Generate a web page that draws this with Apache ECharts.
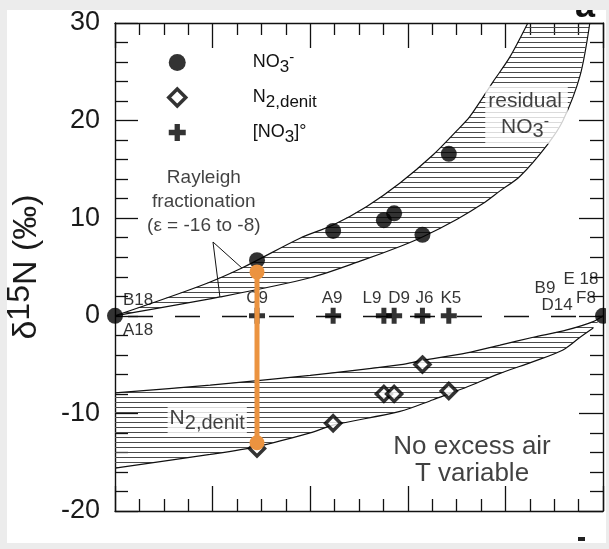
<!DOCTYPE html>
<html><head><meta charset="utf-8">
<script src="https://cdn.jsdelivr.net/npm/echarts@6/dist/echarts.min.js"></script>
<style>
html,body{margin:0;padding:0;background:#ececec;width:609px;height:549px;overflow:hidden}
#chart{position:absolute;left:7px;top:10px;width:599px;height:533px;background:#fff}
</style></head><body><div id="chart"></div>
<script>
// ---------------- data ----------------
const sampleSites = ['C9', 'A9', 'L9', 'D9', 'J6', 'K5'];
const sampleX = [0.291, 0.447, 0.551, 0.572, 0.630, 0.684];
const no3Values = [5.7, 8.7, 9.8, 10.5, 8.3, 16.6];
const n2DenitValues = [-13.6, -11.0, -8.0, -8.0, -5.0, -7.7];
const no3InitialValues = [0, 0, 0, 0, 0, 0];
const endX = [0, 1];
const endNo3Values = [0, 0];
const leftEndLabels = ['B18', 'A18'];
const rightEndLabels = ['B9', 'D14', 'E 18', 'F8'];
const orangeX = 0.291;
const orangeValues = [4.5, -13.0];

// Rayleigh envelopes
const no3UpperX = [0, 0.174, 0.26, 0.379, 0.447, 0.516, 0.584, 0.652, 0.701, 0.727, 0.775, 0.809, 0.846];
const no3UpperY = [0, 3.05, 4.9, 7.95, 9.3, 11.2, 13.6, 16.5, 19.0, 20.4, 24.0, 26.5, 30.0];
const no3LowerX = [0, 0.215, 0.4, 0.508, 0.584, 0.631, 0.701, 0.754, 0.789, 0.83, 0.887, 0.918, 0.953, 0.973];
const no3LowerY = [0, 1.93, 3.9, 5.7, 7.1, 8.1, 9.9, 11.5, 12.8, 14.3, 17.6, 20.0, 24.6, 30.0];
const n2UpperX = [0, 0.195, 0.4, 0.586, 0.627, 0.721, 0.789, 0.857, 0.926, 0.98, 1];
const n2UpperY = [-7.9, -7.1, -6.1, -5.0, -4.6, -3.8, -3.0, -2.2, -1.45, -0.6, 0];
const n2LowerX = [0, 0.195, 0.291, 0.4, 0.447, 0.584, 0.652, 0.684, 0.721, 0.789, 0.857, 0.918, 0.953, 0.98];
const n2LowerY = [-15.6, -14.2, -13.4, -12.0, -11.2, -9.8, -8.6, -8.0, -7.3, -5.9, -4.7, -3.5, -2.2, -1.25];
const rayleighPointerX = [0.26, 0.2008, 0.215];
const rayleighPointerY = [4.9, 7.56, 1.93];

// axes
const xMin = 0, xMax = 1, xStep = 0.2;
const yMin = -20, yMax = 30, yStep = 10;

// ---------------- styles ----------------
const FONT = '"Liberation Sans", Arial, Helvetica, sans-serif';
const INK = '#111';
const ORANGE = '#EB9340';
const plusPath = 'path://M5.5,0H10.5V5.5H16V10.5H10.5V16H5.5V10.5H0V5.5H5.5Z';
const siteLabelShift = {C9: 0, A9: -1, L9: -12, D9: 5, J6: 2, K5: 2};

function makeHatch() {
  const c = document.createElement('canvas');
  c.width = 10; c.height = 5;
  const g = c.getContext('2d');
  g.fillStyle = '#4a4a4a';
  g.fillRect(0, 2, 10, 1);
  return c;
}
const hatchFill = {image: makeHatch(), repeat: 'repeat'};

const richSub = {
  t: {fontSize: 18, lineHeight: 22, fontFamily: FONT, color: INK},
  sub: {fontSize: 17, lineHeight: 12, padding: [10, 0, 0, 0], fontFamily: FONT, color: INK},
  sup: {fontSize: 15, lineHeight: 12, padding: [0, 0, 10, 0], fontFamily: FONT, color: INK}
};
const richBig = {
  t: {fontSize: 21, lineHeight: 26, fontFamily: FONT, color: INK},
  sub: {fontSize: 20, lineHeight: 16, padding: [10, 0, 0, 0], fontFamily: FONT, color: INK},
  sup: {fontSize: 16, lineHeight: 16, padding: [0, 0, 10, 0], fontFamily: FONT, color: INK}
};
const legendText = {
  'NO3-': '{t|NO}{sub|3}{sup|-}',
  'N2,denit': '{t|N}{sub|2,denit}',
  '[NO3]°': '{t|[NO}{sub|3}{t|]°}'
};

function bandSeries(topX, topY, botX, botY) {
  return {
    type: 'custom', silent: true, clip: true, z: 1,
    data: [[topX[0], topY[0]]],
    renderItem: function (params, api) {
      const pts = [];
      for (let i = 0; i < topX.length; i++) pts.push(api.coord([topX[i], topY[i]]));
      for (let i = botX.length - 1; i >= 0; i--) pts.push(api.coord([botX[i], botY[i]]));
      return {type: 'polygon', shape: {points: pts}, style: {fill: hatchFill, stroke: null}};
    }
  };
}
function curveSeries(xs, ys) {
  return {
    type: 'line', data: xs.map((x, i) => [x, ys[i]]), symbol: 'none', smooth: 0.3,
    lineStyle: {color: INK, width: 1.2}, silent: true, z: 2, clip: true
  };
}
const pairs = (xs, ys) => xs.map((x, i) => [x, ys[i]]);

const chart = echarts.init(document.getElementById('chart'));

const axisCommon = {
  type: 'value', splitLine: {show: false},
  axisLine: {onZero: false, lineStyle: {color: INK, width: 1.4}},
  axisTick: {inside: true, lineStyle: {color: INK, width: 1.3}},
  minorTick: {show: true, lineStyle: {color: INK, width: 1.3}},
  minorSplitLine: {show: false}
};

const option = {
  animation: false,
  backgroundColor: '#fff',
  textStyle: {fontFamily: FONT},
  grid: {left: 108, top: 13, right: 3, bottom: 32, containLabel: false, outerBoundsMode: 'none'},
  xAxis: [
    Object.assign({}, axisCommon, {position: 'bottom', min: xMin, max: xMax, interval: xStep,
      axisLabel: {show: false},
      axisTick: Object.assign({}, axisCommon.axisTick, {length: 25}),
      minorTick: Object.assign({}, axisCommon.minorTick, {splitNumber: 4, length: 12})}),
    Object.assign({}, axisCommon, {position: 'top', min: xMin, max: xMax, interval: xStep,
      axisLabel: {show: false},
      axisTick: Object.assign({}, axisCommon.axisTick, {length: 25}),
      minorTick: Object.assign({}, axisCommon.minorTick, {splitNumber: 4, length: 12})})
  ],
  yAxis: [
    Object.assign({}, axisCommon, {position: 'left', min: yMin, max: yMax, interval: yStep,
      axisLabel: {fontSize: 27, color: '#1a1a1a', margin: 15, fontFamily: FONT},
      axisTick: Object.assign({}, axisCommon.axisTick, {length: 23}),
      minorTick: Object.assign({}, axisCommon.minorTick, {splitNumber: 5, length: 13}),
      name: '{d|δ}{s|15}{d|N (‰)}', nameLocation: 'middle', nameRotate: 90, nameGap: 58,
      nameTextStyle: {color: '#1a1a1a', rich: {
        d: {fontSize: 34, lineHeight: 40, fontFamily: FONT, color: '#1a1a1a'},
        s: {fontSize: 32, lineHeight: 26, padding: [0, 0, 14, 0], fontFamily: FONT, color: '#1a1a1a'}
      }}}),
    Object.assign({}, axisCommon, {position: 'right', min: yMin, max: yMax, interval: yStep,
      axisLabel: {show: false},
      axisTick: Object.assign({}, axisCommon.axisTick, {length: 24}),
      minorTick: Object.assign({}, axisCommon.minorTick, {splitNumber: 5, length: 13})})
  ],
  legend: {
    orient: 'vertical', left: 160, top: 39, itemWidth: 17, itemHeight: 17, itemGap: 8,
    padding: 0, selectedMode: false,
    data: [
      {name: 'NO3-', icon: 'circle', itemStyle: {color: '#000', borderWidth: 0}},
      {name: 'N2,denit', icon: 'diamond', itemStyle: {color: '#fff', borderColor: '#000', borderWidth: 3.5}},
      {name: '[NO3]°', icon: plusPath, itemStyle: {color: '#000', borderWidth: 0}}
    ],
    formatter: n => legendText[n],
    textStyle: {fontSize: 18, color: INK, padding: [0, 0, 0, 62], rich: richSub}
  },
  graphic: [
    {type: 'text', x: 578, y: 15, silent: true,
      style: {text: 'a', fontSize: 36, fontWeight: 'bold', fontFamily: FONT, fill: '#111', align: 'center', verticalAlign: 'bottom'}},
    {type: 'rect', shape: {x: 571, y: 527, width: 7, height: 4}, style: {fill: '#222'}, silent: true}
  ],
  series: [
    bandSeries(no3UpperX, no3UpperY, no3LowerX, no3LowerY),
    bandSeries(n2UpperX, n2UpperY, n2LowerX, n2LowerY),
    curveSeries(no3UpperX, no3UpperY),
    curveSeries(no3LowerX, no3LowerY),
    curveSeries(n2UpperX, n2UpperY),
    curveSeries(n2LowerX, n2LowerY),
    {type: 'line', data: pairs(rayleighPointerX, rayleighPointerY), symbol: 'none', silent: true, z: 2,
      lineStyle: {color: INK, width: 1}},
    // annotations
    {type: 'scatter', silent: true, z: 5, symbolSize: 1, itemStyle: {color: 'transparent'},
      label: {show: true, position: 'inside', color: INK, fontFamily: FONT},
      data: [
        {value: [0.182, 11.66], label: {formatter: 'Rayleigh\nfractionation\n(ε = -16 to -8)', fontSize: 19, lineHeight: 24, align: 'center'}},
        {value: [0.8433, 20.6], label: {formatter: '{t|residual}\n{t|NO}{sub|3}{sup|-}', rich: richBig, align: 'center',
          backgroundColor: '#fff', padding: [2, 6, 4, 3]}},
        {value: [0.189, -10.6], label: {formatter: '{t|N}{sub|2,denit}', rich: richBig, align: 'center',
          backgroundColor: '#fff', padding: [0, 2, 2, 2]}},
        {value: [0.7316, -14.77], label: {formatter: 'No excess air\nT variable', fontSize: 26, lineHeight: 27, align: 'center'}}
      ]},
    {type: 'scatter', name: '[NO3]°', symbol: plusPath, symbolSize: 16, z: 6, clip: false,
      itemStyle: {color: '#000'},
      label: {show: true, position: 'top', distance: 1, fontSize: 17, color: '#000', fontFamily: FONT,
        formatter: p => sampleSites[p.dataIndex]},
      data: sampleX.map((x, i) => ({value: [x, no3InitialValues[i]], label: {offset: [siteLabelShift[sampleSites[i]], 0]}})),
      markLine: {silent: true, symbol: ['none', 'none'], label: {show: false},
        lineStyle: {color: INK, width: 1.3, type: [25, 22], dashOffset: 34},
        data: [{yAxis: 0}]}},
    {type: 'scatter', name: 'N2,denit', symbol: 'diamond', symbolSize: 15, z: 6, clip: false,
      itemStyle: {color: '#fff', borderColor: '#000', borderWidth: 3.5},
      data: pairs(sampleX, n2DenitValues)},
    {type: 'scatter', name: 'NO3-', symbol: 'circle', symbolSize: 16, z: 6, clip: false,
      itemStyle: {color: '#000'},
      data: pairs(endX.concat(sampleX), endNo3Values.concat(no3Values))},
    // end-member labels
    {type: 'scatter', silent: true, z: 7, symbolSize: 1, itemStyle: {color: 'transparent'}, clip: false,
      label: {show: true, position: 'inside', fontSize: 17, color: '#000', fontFamily: FONT},
      data: [
        {value: [endX[0], 0], label: {formatter: leftEndLabels[0], align: 'left', offset: [8, -15]}},
        {value: [endX[0], 0], label: {formatter: leftEndLabels[1], align: 'left', offset: [8, 15]}},
        {value: [endX[1], 0], label: {formatter: rightEndLabels[0], offset: [-58, -27]}},
        {value: [endX[1], 0], label: {formatter: rightEndLabels[1], offset: [-46, -10]}},
        {value: [endX[1], 0], label: {formatter: rightEndLabels[2], offset: [-22, -36]}},
        {value: [endX[1], 0], label: {formatter: rightEndLabels[3], offset: [-17, -17]}}
      ]},
    // highlighted C9 pair
    {type: 'line', data: [[orangeX, orangeValues[0]], [orangeX, orangeValues[1]]], z: 8, silent: true,
      symbol: 'circle', symbolSize: 15, showSymbol: true, itemStyle: {color: ORANGE},
      lineStyle: {color: ORANGE, width: 5}}
  ]
};
chart.setOption(option);
</script></body></html>
